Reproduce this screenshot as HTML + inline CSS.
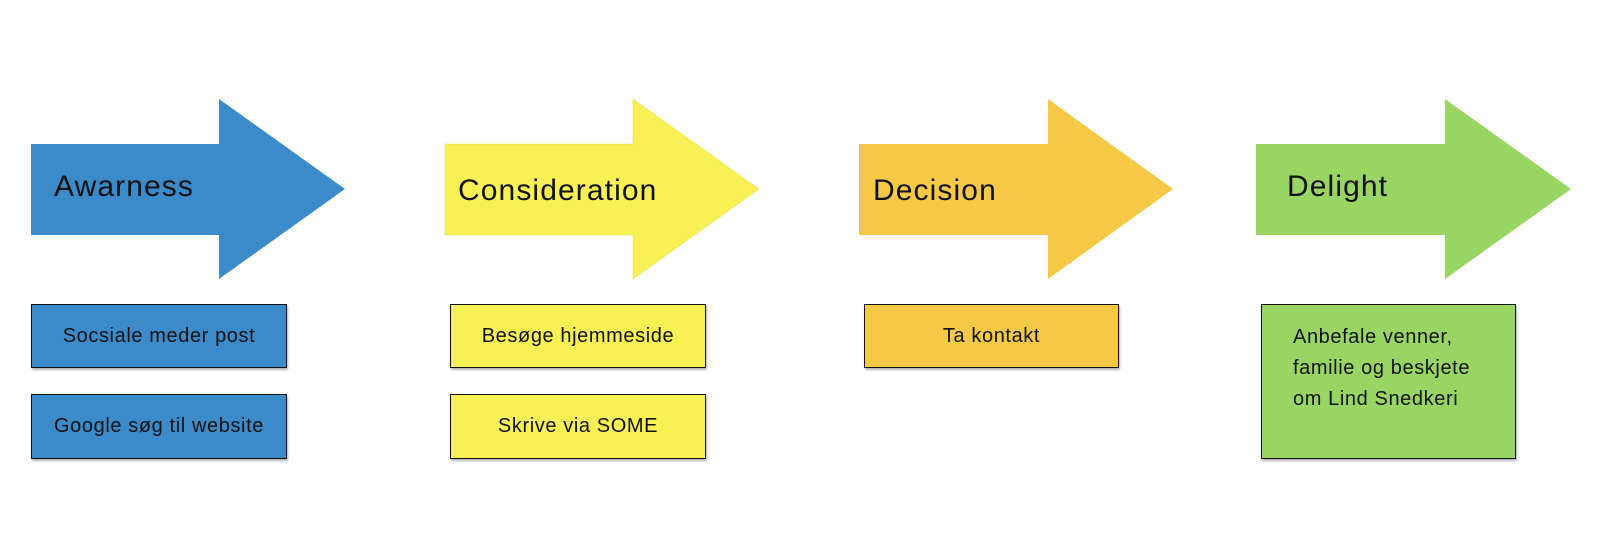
<!DOCTYPE html>
<html><head><meta charset="utf-8"><style>
body{margin:0;width:1606px;height:541px;background:#fff;position:relative;overflow:hidden;font-family:"Liberation Sans",sans-serif;}
svg{position:absolute;left:0;top:0}
.b{position:absolute;border:1px solid #111;box-shadow:1px 2px 2px rgba(0,0,0,.3);font-size:20px;color:#111;display:flex;align-items:center;justify-content:center;letter-spacing:0.6px;box-sizing:border-box}
.t{position:absolute;font-size:30px;color:#111;letter-spacing:1.1px}
</style></head><body>
<svg width="1606" height="541">
<polygon points="31,144 219,144 219,99 345,189 219,279 219,235 31,235" fill="#3b8ac9"/>
<polygon points="445,144 633,144 633,99 759,189 633,279 633,235 445,235" fill="#f8f156" stroke="#e0d84a" stroke-width="0.5"/>
<polygon points="859,144 1048,144 1048,99 1173,189 1048,279 1048,235 859,235" fill="#f5c946"/>
<polygon points="1256,144 1445,144 1445,99 1571,189 1445,279 1445,235 1256,235" fill="#99d562"/>
</svg>
<div class="t" style="left:54px;top:170px">Awarness</div>
<div class="t" style="left:458px;top:174px">Consideration</div>
<div class="t" style="left:873px;top:174px">Decision</div>
<div class="t" style="left:1287px;top:170px">Delight</div>
<div class="b" style="left:31px;top:304px;width:256px;height:64px;background:#3b8ac9">Socsiale meder post</div>
<div class="b" style="left:31px;top:394px;width:256px;height:65px;background:#3b8ac9">Google søg til website</div>
<div class="b" style="left:450px;top:304px;width:256px;height:64px;background:#f8f156">Besøge hjemmeside</div>
<div class="b" style="left:450px;top:394px;width:256px;height:65px;background:#f8f156">Skrive via SOME</div>
<div class="b" style="left:864px;top:304px;width:255px;height:64px;background:#f5c946">Ta kontakt</div>
<div class="b" style="left:1261px;top:304px;width:255px;height:155px;background:#99d562;display:block;padding:17px 0 0 31px;line-height:31px">Anbefale venner,<br>familie og beskjete<br>om Lind Snedkeri</div>
</body></html>
